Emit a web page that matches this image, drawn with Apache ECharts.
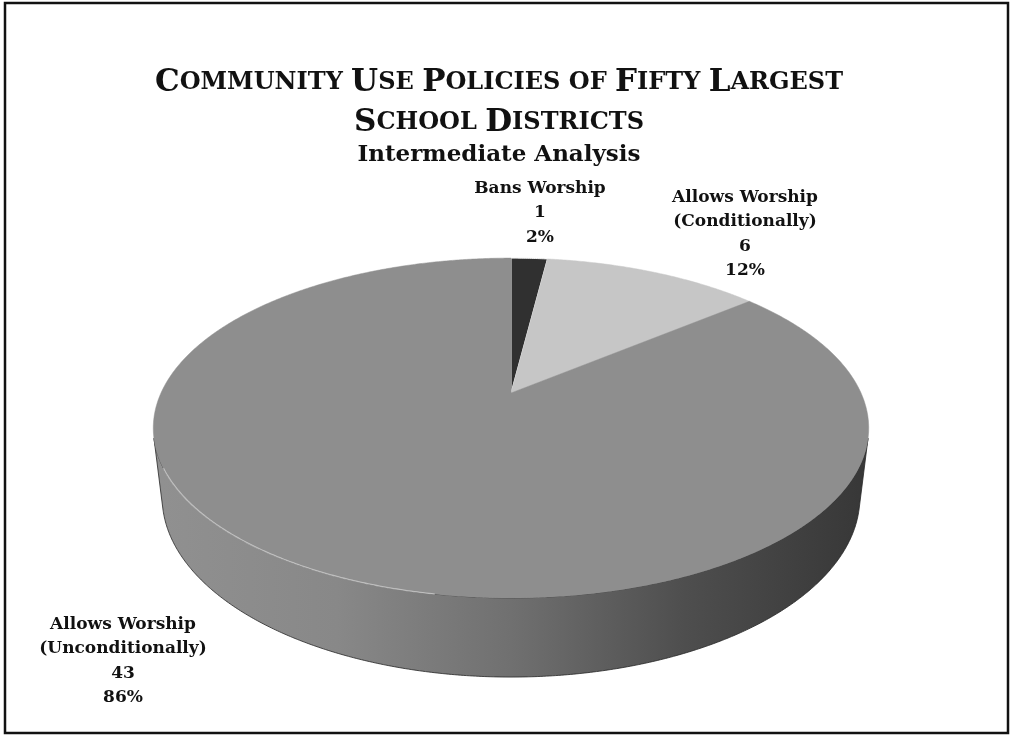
<!DOCTYPE html>
<html>
<head>
<meta charset="utf-8">
<script src="https://cdn.jsdelivr.net/npm/echarts@6/dist/echarts.min.js"></script>
<style>
  html, body { margin: 0; padding: 0; background: #ffffff; }
  #chart { width: 1013px; height: 736px; }
</style>
</head>
<body>
<div id="chart"></div>
<script>
// ---- data ----
const categories = ['Bans Worship', 'Allows Worship\n(Conditionally)', 'Allows Worship\n(Unconditionally)'];
const counts = [1, 6, 43];
const titleLines = ['Community Use Policies of Fifty Largest', 'School Districts'];
const subtitleText = 'Intermediate Analysis';

// ---- styling ----
const FONT = 'DejaVu Serif';
const topColors = ['#303030', '#c6c6c6', '#8e8e8e'];
const wallStops = [
  ['#2a2a2a', '#1f1f1f'],
  ['#9a9a9a', '#8a8a8a'],
  ['#909090', '#888888', '#707070', '#4e4e4e', '#383838']
];
// label block anchors (centre x, top y) for each slice
const labelAnchors = [[540, 176], [745, 185], [123, 612]];

// ---- 3D pie view (perspective-projected disc) ----
const view = {
  cx: 511, cy: 393,       // projected disc centre
  focal: 1503.7,          // focal length in px
  dist: 4.296,            // camera distance in radii
  tilt: 27.7 * Math.PI / 180,
  depth: 0.225            // disc thickness in radii
};
const DEG = Math.PI / 180;

function project(x, z, yd) {
  const sa = Math.sin(view.tilt), ca = Math.cos(view.tilt);
  const Y = z * sa + yd * ca;
  const D = view.dist - z * ca + yd * sa;
  return [view.cx + view.focal * x / D, view.cy + view.focal * Y / D];
}
// angle measured clockwise from the far (12 o'clock) point of the disc
function rim(theta, yd) {
  return project(Math.sin(theta), -Math.cos(theta), yd);
}
function arc(a, b, yd) {
  const pts = [];
  const n = Math.max(2, Math.ceil(Math.abs(b - a) / (0.4 * DEG)));
  for (let i = 0; i <= n; i++) pts.push(rim(a + (b - a) * i / n, yd));
  return pts;
}

const total = counts.reduce((s, v) => s + v, 0);
const starts = [];
counts.reduce((acc, v) => { starts.push(acc); return acc + v; }, 0);

// visible wall range: outward normal facing the camera
const camZ = view.dist * Math.cos(view.tilt);
const frontA = Math.acos(-1 / camZ);
const frontB = 2 * Math.PI - frontA;
const silL = rim(frontB, view.depth)[0];
const silR = rim(frontA, view.depth)[0];

function renderItem(params, api) {
  const i = params.dataIndex;
  const v = api.value(0);
  const a0 = starts[i] / total * 2 * Math.PI;
  const a1 = (starts[i] + v) / total * 2 * Math.PI;
  const children = [];

  // side wall (front-facing part only)
  const wa = Math.max(a0, frontA), wb = Math.min(a1, frontB);
  if (wb > wa) {
    const pts = arc(wa, wb, 0).concat(arc(wb, wa, view.depth));
    const cols = wallStops[i];
    const stops = cols.map((c, k) => ({ offset: cols.length > 1 ? k / (cols.length - 1) : 0, color: c }));
    children.push({
      type: 'polygon',
      shape: { points: pts },
      style: {
        fill: new echarts.graphic.LinearGradient(silL, 0, silR, 0, stops, true),
        stroke: '#262626', lineWidth: 0.8
      },
      z2: 1
    });
  }

  // top face
  const topPts = [project(0, 0, 0)].concat(arc(a0, a1, 0));
  children.push({
    type: 'polygon',
    shape: { points: topPts },
    style: { fill: topColors[i], stroke: i === 0 ? '#f2f2f2' : topColors[i], lineWidth: i === 0 ? 1 : 0.5 },
    z2: 2
  });

  // faint highlight along the front-left rim of the top face
  const ha = Math.max(a0, 190 * DEG), hb = Math.min(a1, 245 * DEG);
  if (hb > ha) {
    children.push({
      type: 'polyline',
      shape: { points: arc(ha, hb, 0) },
      style: { stroke: 'rgba(230,230,230,0.6)', lineWidth: 1.3, fill: 'none' },
      z2: 3
    });
  }

  // data label: category, count, percentage
  const pct = Math.round(v / total * 100);
  const anchor = labelAnchors[i];
  children.push({
    type: 'text',
    x: anchor[0], y: anchor[1],
    style: {
      text: categories[i] + '\n' + v + '\n' + pct + '%',
      fill: '#111111',
      font: 'bold 17px "' + FONT + '"',
      align: 'center',
      verticalAlign: 'top',
      lineHeight: 24.5
    },
    z2: 5
  });

  return { type: 'group', children: children };
}

// small-caps title built from rich text
function smallCaps(line) {
  return line.split(' ').map(w => {
    if (w.toLowerCase() === 'of') return '{s|OF}';
    return '{c|' + w.charAt(0).toUpperCase() + '}{s|' + w.slice(1).toUpperCase() + '}';
  }).join('{s| }');
}

const chart = echarts.init(document.getElementById('chart'), null, { renderer: 'canvas' });
chart.setOption({
  backgroundColor: '#ffffff',
  animation: false,
  title: [
    {
      text: titleLines.map(smallCaps).join('\n'),
      left: 494, top: 58, textAlign: 'center',
      textStyle: {
        fontFamily: FONT, fontWeight: 'bold', color: '#111111', lineHeight: 40,
        rich: {
          c: { fontFamily: FONT, fontWeight: 'bold', fontSize: 31, color: '#111111', lineHeight: 40 },
          s: { fontFamily: FONT, fontWeight: 'bold', fontSize: 24, color: '#111111', lineHeight: 40 }
        }
      }
    },
    {
      text: subtitleText,
      left: 494, top: 139, textAlign: 'center',
      textStyle: { fontFamily: FONT, fontWeight: 'bold', fontSize: 23, color: '#111111' }
    }
  ],
  graphic: [
    {
      type: 'rect',
      shape: { x: 5, y: 3, width: 1003, height: 730 },
      style: { fill: 'none', stroke: '#111111', lineWidth: 2.5 },
      silent: true
    }
  ],
  series: [
    {
      type: 'custom',
      coordinateSystem: 'none',
      renderItem: renderItem,
      data: counts.map((v, i) => ({ name: categories[i], value: [v] }))
    }
  ]
});
</script>
</body>
</html>
